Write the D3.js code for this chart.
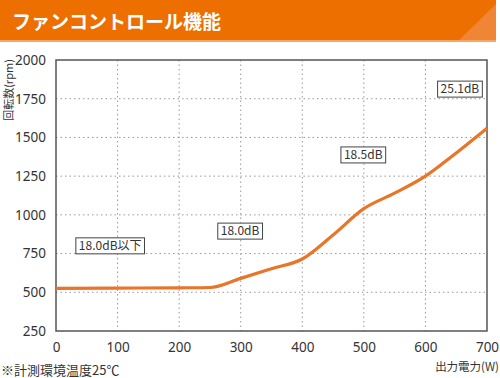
<!DOCTYPE html>
<html>
<head>
<meta charset="utf-8">
<script src="https://cdn.jsdelivr.net/npm/d3@7"></script>
<style>
  body { margin: 0; background: #fff; }
  svg { display: block; font-family: "Noto Sans CJK JP", "Noto Sans", sans-serif; }
</style>
</head>
<body>
<div id="chart"></div>
<script>
// data
let watts = [0, 100, 200, 250, 300, 350, 400, 450, 500, 550, 600, 650, 700];
let rpm = [525, 527, 529, 531, 590, 652, 715, 870, 1040, 1140, 1250, 1400, 1560];
let xTicks = [0, 100, 200, 300, 400, 500, 600, 700];
let yTicks = [250, 500, 750, 1000, 1250, 1500, 1750, 2000];
let noiseLabels = ["18.0dB以下", "18.0dB", "18.5dB", "25.1dB"];
let noiseAt = [[88, 800], [299, 895], [499, 1387], [656, 1812]];

let width = 500, height = 378;
let margin = {top: 60, right: 13, left: 56};

let svg = d3.select("#chart").append("svg")
    .attr("width", width)
    .attr("height", height);

// title bar
svg.append("rect").attr("x", 0).attr("y", 0).attr("width", 496).attr("height", 41).attr("fill", "#ec6f00");
svg.append("path").attr("d", "M458,41 L496,4 L496,41 Z").attr("fill", "#ef8535");
svg.append("rect").attr("x", 0).attr("y", 40).attr("width", 496).attr("height", 2).attr("fill", "#f5a866");
svg.append("text").attr("x", 12).attr("y", 29)
    .attr("fill", "#fff").attr("font-size", 19).attr("font-weight", "bold")
    .text("ファンコントロール機能");

let g = svg.append("g").attr("transform", `translate(${margin.left},${margin.top})`);
let w = width - margin.left - margin.right;
let h = 271;

let x = d3.scaleLinear().domain([0, 700]).range([0, w]);
let y = d3.scaleLinear().domain([250, 2000]).range([h, 0]);

// grid
g.selectAll(".vgrid").data(xTicks.slice(1, -1)).enter().append("line")
    .attr("x1", d => x(d)).attr("x2", d => x(d)).attr("y1", 0).attr("y2", h)
    .attr("stroke", "#999").attr("stroke-dasharray", "1.5,3");
g.selectAll(".hgrid").data(yTicks.slice(1, -1)).enter().append("line")
    .attr("x1", 0).attr("x2", w).attr("y1", d => y(d)).attr("y2", d => y(d))
    .attr("stroke", "#999").attr("stroke-dasharray", "1.5,3");

// frame
g.append("rect").attr("width", w).attr("height", h)
    .attr("fill", "none").attr("stroke", "#555").attr("stroke-width", 1.5);

// axes
let xAxis = g.append("g").attr("transform", `translate(0,${h})`)
    .call(d3.axisBottom(x).tickValues(xTicks).tickFormat(d3.format("d")).tickSize(0).tickPadding(11));
let yAxis = g.append("g")
    .call(d3.axisLeft(y).tickValues(yTicks).tickFormat(d3.format("d")).tickSize(0).tickPadding(10));
[xAxis, yAxis].forEach(a => {
    a.select(".domain").remove();
    a.selectAll("text").attr("font-size", 13.5).attr("fill", "#333")
        .attr("font-family", "Noto Sans, sans-serif");
});

// line
let line = d3.line()
    .x((d, i) => x(watts[i]))
    .y(d => y(d))
    .curve(d3.curveMonotoneX);
g.append("path").datum(rpm)
    .attr("d", line)
    .attr("fill", "none").attr("stroke", "#e8762a").attr("stroke-width", 3.2);

// noise level boxes
noiseLabels.forEach((t, i) => {
    let lg = g.append("g").attr("transform", `translate(${x(noiseAt[i][0])},${y(noiseAt[i][1])})`);
    let txt = lg.append("text").attr("text-anchor", "middle").attr("dy", "0.35em")
        .attr("font-size", 12).attr("fill", "#333").text(t);
    let bb = txt.node().getBBox();
    lg.insert("rect", "text")
        .attr("x", bb.x - 3).attr("y", -8).attr("width", bb.width + 6).attr("height", 16)
        .attr("fill", "#fff").attr("stroke", "#444").attr("stroke-width", 1);
});

// axis titles
svg.append("text").attr("transform", "translate(13,90) rotate(-90)")
    .attr("text-anchor", "middle").attr("font-size", 11).attr("fill", "#333")
    .text("回転数(rpm)");
svg.append("text").attr("x", 499).attr("y", 371).attr("text-anchor", "end")
    .attr("font-size", 11.5).attr("fill", "#333").text("出力電力(W)");
svg.append("text").attr("x", 1).attr("y", 375)
    .attr("font-size", 13).attr("fill", "#333").text("※計測環境温度25℃");
</script>
</body>
</html>
